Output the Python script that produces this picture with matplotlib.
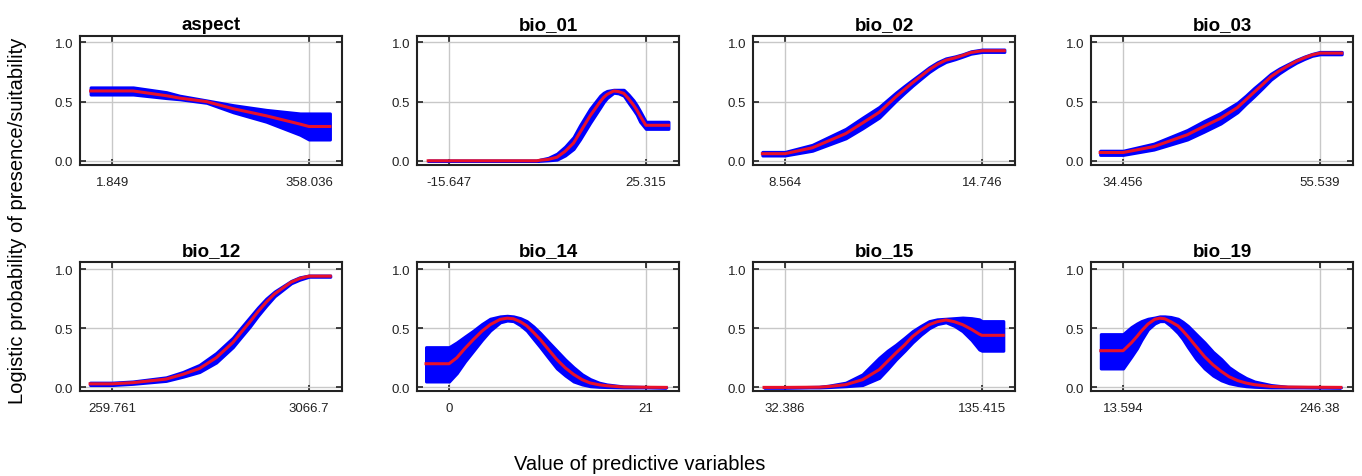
import matplotlib
matplotlib.use('Agg')
import matplotlib.pyplot as plt

plt.rcParams['font.family'] = ['Liberation Sans', 'DejaVu Sans']

# colours
band_color = '#0000ff'
line_color = '#e8102a'
grid_color = '#c8c8c8'

# ---- data ----
aspect_ticks = [1.849, 358.036]
aspect_labels = ['1.849', '358.036']
aspect_x = [-37, 2, 40, 100, 124, 173, 221, 281, 342, 358, 396]
aspect_mean = [0.59, 0.59, 0.59, 0.55, 0.53, 0.50, 0.44, 0.38, 0.31, 0.29, 0.29]
aspect_low = [0.56, 0.56, 0.56, 0.53, 0.52, 0.49, 0.41, 0.33, 0.22, 0.18, 0.18]
aspect_high = [0.62, 0.62, 0.62, 0.58, 0.55, 0.51, 0.47, 0.43, 0.40, 0.40, 0.40]

bio01_ticks = [-15.647, 25.315]
bio01_labels = ['-15.647', '25.315']
bio01_x = [-20, 2.6, 3.3, 5.0, 6.8, 8.5, 10.25, 11.6, 13.7, 15.8, 16.5, 17.2, 18.6, 19.6, 20.7, 21.7, 22.75, 23.4, 24.1, 25.3, 30]
bio01_mean = [0, 0, 0.005, 0.012, 0.03, 0.08, 0.15, 0.24, 0.38, 0.50, 0.535, 0.56, 0.59, 0.585, 0.57, 0.525, 0.47, 0.43, 0.38, 0.30, 0.30]
bio01_low = [0, 0, 0, 0.004, 0.01, 0.045, 0.10, 0.18, 0.32, 0.45, 0.495, 0.53, 0.575, 0.57, 0.55, 0.49, 0.43, 0.39, 0.33, 0.27, 0.27]
bio01_high = [0, 0, 0.01, 0.025, 0.06, 0.12, 0.20, 0.30, 0.44, 0.55, 0.575, 0.59, 0.60, 0.60, 0.60, 0.56, 0.51, 0.47, 0.42, 0.33, 0.33]

bio02_ticks = [8.564, 14.746]
bio02_labels = ['8.564', '14.746']
bio02_x = [7.85, 8.56, 9.42, 10.47, 11.0, 11.52, 12.04, 12.3, 12.57, 12.83, 13.09, 13.35, 13.61, 13.9, 14.14, 14.4, 14.75, 15.45]
bio02_mean = [0.06, 0.06, 0.11, 0.23, 0.32, 0.41, 0.54, 0.60, 0.66, 0.715, 0.77, 0.815, 0.85, 0.87, 0.89, 0.915, 0.93, 0.93]
bio02_low = [0.045, 0.045, 0.085, 0.19, 0.275, 0.365, 0.505, 0.57, 0.635, 0.693, 0.75, 0.797, 0.835, 0.858, 0.88, 0.905, 0.92, 0.92]
bio02_high = [0.075, 0.075, 0.135, 0.27, 0.365, 0.455, 0.575, 0.63, 0.685, 0.737, 0.79, 0.833, 0.865, 0.882, 0.90, 0.925, 0.94, 0.94]

bio03_ticks = [34.456, 55.539]
bio03_labels = ['34.456', '55.539']
bio03_x = [32.0, 34.46, 37.75, 41.33, 43.1, 44.91, 46.70, 47.6, 48.49, 49.4, 50.28, 51.2, 52.07, 53.0, 53.86, 54.7, 55.54, 57.87]
bio03_mean = [0.07, 0.07, 0.12, 0.22, 0.29, 0.36, 0.45, 0.515, 0.58, 0.645, 0.71, 0.76, 0.80, 0.84, 0.87, 0.895, 0.91, 0.91]
bio03_low = [0.05, 0.05, 0.095, 0.18, 0.245, 0.315, 0.41, 0.48, 0.545, 0.615, 0.685, 0.74, 0.785, 0.828, 0.86, 0.887, 0.90, 0.90]
bio03_high = [0.085, 0.085, 0.145, 0.26, 0.335, 0.405, 0.49, 0.55, 0.615, 0.675, 0.735, 0.78, 0.815, 0.852, 0.88, 0.903, 0.92, 0.92]

bio12_ticks = [259.761, 3066.7]
bio12_labels = ['259.761', '3066.7']
bio12_x = [-54, 260, 555, 1030, 1268, 1506, 1744, 1982, 2100, 2220, 2340, 2458, 2577, 2696, 2815, 2934, 3067, 3371]
bio12_mean = [0.03, 0.03, 0.04, 0.07, 0.11, 0.16, 0.25, 0.38, 0.465, 0.55, 0.64, 0.72, 0.79, 0.84, 0.89, 0.92, 0.94, 0.94]
bio12_low = [0.02, 0.02, 0.03, 0.055, 0.09, 0.13, 0.21, 0.34, 0.425, 0.51, 0.605, 0.69, 0.77, 0.825, 0.88, 0.91, 0.935, 0.935]
bio12_high = [0.04, 0.04, 0.05, 0.085, 0.13, 0.19, 0.29, 0.42, 0.505, 0.59, 0.675, 0.75, 0.81, 0.855, 0.90, 0.93, 0.945, 0.945]

bio14_ticks = [0, 21]
bio14_labels = ['0', '21']
bio14_x = [-2.46, 0, 0.82, 1.7, 2.60, 3.5, 4.38, 5.45, 6.2, 6.87, 7.6, 8.29, 9.0, 9.72, 10.6, 11.50, 12.4, 13.28, 14.2, 15.06, 16.0, 16.83, 18.61, 23.17]
bio14_mean = [0.20, 0.20, 0.25, 0.33, 0.405, 0.475, 0.53, 0.575, 0.585, 0.58, 0.555, 0.52, 0.465, 0.405, 0.32, 0.235, 0.165, 0.11, 0.065, 0.037, 0.022, 0.014, 0.003, 0]
bio14_low = [0.05, 0.05, 0.12, 0.22, 0.31, 0.40, 0.48, 0.55, 0.565, 0.56, 0.525, 0.48, 0.41, 0.34, 0.25, 0.16, 0.10, 0.05, 0.025, 0.01, 0.005, 0.003, 0, 0]
bio14_high = [0.34, 0.34, 0.38, 0.43, 0.48, 0.535, 0.58, 0.60, 0.605, 0.60, 0.585, 0.56, 0.515, 0.46, 0.385, 0.31, 0.235, 0.17, 0.11, 0.07, 0.04, 0.025, 0.008, 0]

bio15_ticks = [32.386, 135.415]
bio15_labels = ['32.386', '135.415']
bio15_x = [21.38, 32.39, 50.2, 55.44, 64.17, 72.9, 81.63, 86.0, 90.36, 95.0, 99.09, 103.5, 107.83, 112.0, 116.56, 121.0, 125.3, 130.0, 134.02, 135.4, 146.6]
bio15_mean = [0, 0, 0.002, 0.008, 0.023, 0.065, 0.15, 0.22, 0.29, 0.36, 0.43, 0.485, 0.53, 0.555, 0.57, 0.555, 0.53, 0.49, 0.45, 0.44, 0.44]
bio15_low = [0, 0, 0, 0.003, 0.01, 0.02, 0.08, 0.155, 0.235, 0.31, 0.38, 0.445, 0.50, 0.535, 0.55, 0.52, 0.475, 0.40, 0.32, 0.31, 0.31]
bio15_high = [0, 0, 0.005, 0.015, 0.04, 0.11, 0.25, 0.31, 0.36, 0.42, 0.475, 0.52, 0.56, 0.575, 0.58, 0.585, 0.59, 0.585, 0.575, 0.56, 0.56]

bio19_ticks = [13.594, 246.38]
bio19_labels = ['13.594', '246.38']
bio19_x = [-12.75, 13.59, 23.42, 30, 35.22, 43, 50.95, 57, 62.75, 70, 78.48, 84, 90.27, 100, 109.93, 120, 129.6, 139, 149.26, 159, 168.92, 188.58, 208.24, 271.15]
bio19_mean = [0.31, 0.31, 0.377, 0.43, 0.476, 0.535, 0.575, 0.585, 0.58, 0.555, 0.52, 0.48, 0.43, 0.345, 0.26, 0.19, 0.136, 0.09, 0.057, 0.037, 0.023, 0.008, 0.003, 0]
bio19_low = [0.16, 0.16, 0.26, 0.33, 0.40, 0.49, 0.54, 0.56, 0.56, 0.52, 0.46, 0.41, 0.34, 0.24, 0.16, 0.10, 0.06, 0.035, 0.02, 0.01, 0.005, 0, 0, 0]
bio19_high = [0.45, 0.45, 0.51, 0.54, 0.56, 0.58, 0.59, 0.60, 0.60, 0.595, 0.58, 0.555, 0.52, 0.45, 0.38, 0.30, 0.24, 0.17, 0.12, 0.08, 0.05, 0.02, 0.005, 0]

panels = [
    ('aspect', aspect_ticks, aspect_labels, aspect_x, aspect_mean, aspect_low, aspect_high),
    ('bio_01', bio01_ticks, bio01_labels, bio01_x, bio01_mean, bio01_low, bio01_high),
    ('bio_02', bio02_ticks, bio02_labels, bio02_x, bio02_mean, bio02_low, bio02_high),
    ('bio_03', bio03_ticks, bio03_labels, bio03_x, bio03_mean, bio03_low, bio03_high),
    ('bio_12', bio12_ticks, bio12_labels, bio12_x, bio12_mean, bio12_low, bio12_high),
    ('bio_14', bio14_ticks, bio14_labels, bio14_x, bio14_mean, bio14_low, bio14_high),
    ('bio_15', bio15_ticks, bio15_labels, bio15_x, bio15_mean, bio15_low, bio15_high),
    ('bio_19', bio19_ticks, bio19_labels, bio19_x, bio19_mean, bio19_low, bio19_high),
]

# ---- layout (pixels of a 1362x477 canvas) ----
W, H = 1362, 477
col_left = [80, 417, 753, 1091]
row_top = [36.7, 263.3]
box_w, box_h = 262, 129

fig = plt.figure(figsize=(W / 100, H / 100), dpi=100)

for i, (name, ticks, labels, x, mean, low, high) in enumerate(panels):
    r, c = divmod(i, 4)
    ax = fig.add_axes([col_left[c] / W, 1 - (row_top[r] + box_h) / H, box_w / W, box_h / H])
    ax.fill_between(x, low, high, color=band_color, edgecolor=band_color, linewidth=2.2, zorder=2)
    ax.plot(x, mean, color=line_color, linewidth=2.2, zorder=3)

    span = ticks[1] - ticks[0]
    ax.set_xlim(ticks[0] - 0.163 * span, ticks[1] + 0.168 * span)
    ax.set_ylim(-0.033, 1.057)
    ax.set_xticks(ticks)
    ax.set_xticklabels(labels)
    ax.set_yticks([0, 0.5, 1.0])
    ax.set_yticklabels(['0.0', '0.5', '1.0'])
    ax.grid(True, color=grid_color, linewidth=1, zorder=0)
    ax.set_axisbelow(True)
    ax.tick_params(direction='in', length=4, width=1.2, top=True, right=True,
                   labelsize=9.5, colors='#222222')
    ax.tick_params(axis='x', pad=8)
    ax.tick_params(axis='y', pad=5)
    for s in ax.spines.values():
        s.set_linewidth(1.5)
        s.set_color('#222222')
    ax.set_title(name, fontsize=13.5, fontweight='bold', pad=5)

fig.text(18 / W, 1 - 221 / H, 'Logistic probability of presence/suitability',
         rotation=90, ha='center', va='center', fontsize=14.5)
fig.text(640 / W, 1 - 465 / H, 'Value of predictive variables',
         ha='center', va='center', fontsize=14.5)

fig.savefig('out.png', dpi=100)
